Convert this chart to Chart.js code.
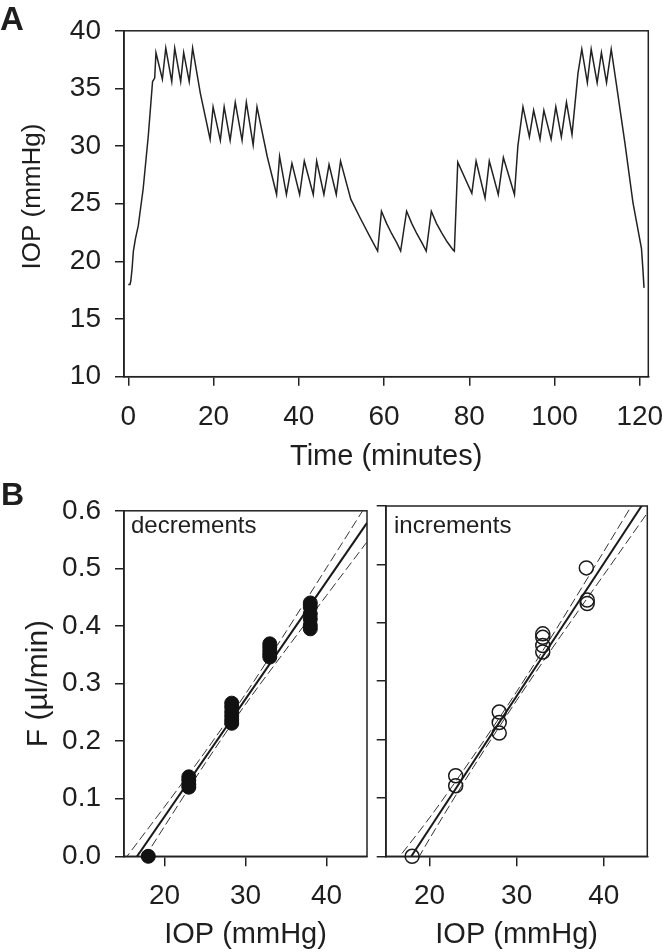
<!DOCTYPE html>
<html>
<head>
<meta charset="utf-8">
<title>IOP trace and outflow</title>
<script src="https://cdn.jsdelivr.net/npm/chart.js@4.4.0/dist/chart.umd.min.js"></script>
<style>
  body { margin: 0; background: #fff; }
  #page { position: relative; width: 663px; height: 952px; overflow: hidden; font-family: 'Liberation Sans', Arial, sans-serif; color: #1e1e1e; }
  canvas, .txt { position: absolute; }
  .panel { font-weight: bold; line-height: 1; }
  .note { font-size: 24px; line-height: 24px; white-space: nowrap; }
</style>
</head>
<body>
<div id="page">
  <canvas id="chartA" width="663" height="480" style="left:0;top:0;width:663px;height:480px"></canvas>
  <canvas id="chartDec" width="375" height="472" style="left:0;top:480px;width:375px;height:472px"></canvas>
  <canvas id="chartInc" width="288" height="472" style="left:375px;top:480px;width:288px;height:472px"></canvas>
  <div class="txt panel" style="left:0;top:2px;font-size:33px">A</div>
  <div class="txt panel" style="left:1px;top:478px;font-size:32px">B</div>
  <div class="txt note" style="left:131px;top:513px">decrements</div>
  <div class="txt note" style="left:394px;top:513px">increments</div>
</div>

<script>
// panel A: IOP recording over time
const timeMin = [0, 0.4, 0.6, 0.9, 1.2, 1.7, 2.35, 3.5, 4.7, 5.7, 6.2, 6.5, 8.0, 8.8, 10.2, 10.9, 12.3, 13.0, 14.3, 15.1,
  16.9, 19.2, 19.9, 21.6, 22.5, 23.9, 25.1, 26.7, 27.7, 29.3, 30.2,
  32.6, 34.8, 35.5, 37.1, 38.4, 40.2, 41.3, 43.4, 44.2, 45.9, 47.1, 48.8, 49.8,
  52.2, 54.5, 56.9, 58.5, 59.4, 60.6, 61.8, 63.0, 63.9, 65.3, 66.5, 67.7, 68.9, 69.9,
  71.1, 72.3, 73.5, 74.8, 76.2, 76.5,
  77.3, 80.6, 81.6, 83.7, 84.7, 86.8, 88.0, 90.6,
  91.4, 92.6, 94.1, 95.1, 96.6, 97.5, 99.2, 100.3, 101.6, 102.8, 104.1,
  105.5, 106.4, 107.7, 108.6, 110.0, 111.0, 112.2, 113.3,
  114.5, 116.5, 118.4, 120.4, 120.7, 121.0];
const iopTrace = [18.0, 18.0, 18.3, 19.4, 20.9, 22.0, 23.1, 26.3, 30.9, 35.6, 35.9, 38.1, 35.8, 38.5, 35.6, 38.5, 35.6, 38.1, 35.6, 38.5,
  34.6, 30.6, 33.4, 30.5, 33.4, 30.5, 33.8, 30.5, 33.8, 30.1, 33.4,
  29.1, 25.8, 29.1, 25.8, 28.5, 25.8, 28.7, 25.8, 28.7, 25.8, 28.4, 25.8, 28.7,
  25.4, 23.7, 22.0, 20.9, 24.35, 23.3, 22.4, 21.6, 20.9, 24.35, 23.3, 22.4, 21.6, 20.9,
  24.35, 23.3, 22.5, 21.7, 21.0, 20.9,
  28.6, 25.9, 28.7, 25.5, 28.7, 25.8, 29.0, 25.8,
  30.0, 33.4, 30.8, 33.1, 30.6, 33.1, 30.6, 33.4, 30.8, 33.8, 31.0,
  36.3, 38.4, 35.5, 38.4, 35.5, 38.1, 35.5, 38.4,
  35.4, 30.3, 25.1, 21.1, 19.5, 17.7];
const timeTicks = [0, 20, 40, 60, 80, 100, 120];
const iopTicksA = [10, 15, 20, 25, 30, 35, 40];

// panel B: flow against pressure
const decIOP = [18, 23, 23, 23, 23, 28.3, 28.3, 28.3, 28.3, 28.3, 28.3, 33, 33, 33, 33, 33, 38, 38, 38, 38, 38, 38];
const decF = [0, 0.138, 0.132, 0.125, 0.120, 0.266, 0.259, 0.251, 0.244, 0.237, 0.231, 0.369, 0.363, 0.357, 0.351, 0.346, 0.440, 0.433, 0.421, 0.412, 0.401, 0.395];
const incIOP = [18, 23, 23, 28, 28, 28, 33, 33, 33, 33, 38, 38.1, 38.1];
const incF = [0, 0.138, 0.121, 0.247, 0.229, 0.211, 0.381, 0.375, 0.361, 0.350, 0.494, 0.439, 0.433];
const fitIOP = [15, 45];
const decFit = [-0.033, 0.579];
const incFit = [-0.066, 0.615];
const bandIOP = [15, 20, 25, 30, 35, 40, 45];
const decUpper = [-0.007, 0.086, 0.181, 0.282, 0.390, 0.501, 0.612];
const decLower = [-0.059, 0.052, 0.161, 0.264, 0.359, 0.453, 0.546];
const incUpper = [-0.030, 0.066, 0.171, 0.282, 0.400, 0.522, 0.645];
const incLower = [-0.100, 0.030, 0.152, 0.267, 0.376, 0.482, 0.588];
const iopTicksB = [20, 30, 40];
const fTicks = [0, 0.1, 0.2, 0.3, 0.4, 0.5, 0.6];

const FONT = "'Liberation Sans', Arial, sans-serif";
const INK = '#1e1e1e';
const pts = (xs, ys) => xs.map((x, i) => ({ x: x, y: ys[i] }));

const boxPlugin = {
  id: 'box',
  beforeDatasetsDraw(chart) {
    const a = chart.chartArea, ctx = chart.ctx;
    ctx.save();
    ctx.strokeStyle = '#222';
    ctx.lineWidth = 1.5;
    ctx.strokeRect(a.left, a.top, a.right - a.left, a.bottom - a.top);
    ctx.restore();
  }
};

function scale(o) {
  return {
    type: 'linear',
    min: o.min, max: o.max,
    afterBuildTicks: s => { s.ticks = o.ticks.map(v => ({ value: v })); },
    afterFit: s => {
      if (o.width != null) s.width = o.width;
      if (o.height != null) { s.height = o.height; s.paddingLeft = 0; s.paddingRight = 0; }
    },
    grid: { drawOnChartArea: false, drawTicks: true, tickLength: o.tick, color: '#222', lineWidth: 1.5 },
    border: { display: true, color: '#222', width: 1.5 },
    ticks: {
      display: o.labels !== false,
      color: INK, padding: o.pad, autoSkip: false, maxRotation: 0,
      font: { family: FONT, size: 28 },
      callback: o.fmt || (v => v)
    },
    title: o.title ? {
      display: true, text: o.title, color: INK,
      font: { family: FONT, size: o.titleSize },
      padding: o.titlePad
    } : { display: false }
  };
}

function baseOptions(pad, xs, ys) {
  return {
    responsive: false, animation: false, events: [],
    layout: { padding: pad },
    plugins: { legend: { display: false }, tooltip: { enabled: false } },
    scales: { x: xs, y: ys }
  };
}

// panel A (leading spaces nudge the rotated title up a little, as in the original)
new Chart(document.getElementById('chartA'), {
  type: 'scatter',
  data: {
    datasets: [{
      data: pts(timeMin, iopTrace),
      showLine: true, pointRadius: 0,
      borderColor: '#222', borderWidth: 1.5
    }]
  },
  options: baseOptions({ top: 26.7, right: 14.7, left: 0, bottom: 0 },
    scale({ min: -1, max: 122, ticks: timeTicks, tick: 9, pad: 14.5, height: 103.3,
            title: 'Time (minutes)', titleSize: 29, titlePad: { bottom: 5.6 } }),
    scale({ min: 10, max: 40, ticks: iopTicksA, tick: 9, pad: 14, width: 124,
            title: '  IOP (mmHg)', titleSize: 26, titlePad: { top: 17.4 } })),
  plugins: [boxPlugin]
});

function fitSets(fit, upper, lower) {
  return [
    { data: pts(fitIOP, fit), showLine: true, pointRadius: 0, borderColor: '#1a1a1a', borderWidth: 2, order: 2 },
    { data: pts(bandIOP, upper), showLine: true, pointRadius: 0, borderColor: '#333', borderWidth: 1, borderDash: [9, 4], tension: 0.3, order: 3 },
    { data: pts(bandIOP, lower), showLine: true, pointRadius: 0, borderColor: '#333', borderWidth: 1, borderDash: [9, 4], tension: 0.3, order: 3 }
  ];
}

const fFmt = v => v.toFixed(1);

// panel B, decrements
new Chart(document.getElementById('chartDec'), {
  type: 'scatter',
  data: {
    datasets: [{
      data: pts(decIOP, decF), pointRadius: 7, clip: false,
      backgroundColor: '#111', borderColor: '#111', borderWidth: 1, order: 1
    }].concat(fitSets(decFit, decUpper, decLower))
  },
  options: baseOptions({ top: 26, right: 5.7, left: 0, bottom: 0 },
    scale({ min: 15, max: 45, ticks: iopTicksB, tick: 10, pad: 12.9, height: 95.7,
            title: 'IOP (mmHg)', titleSize: 29, titlePad: { bottom: 0 } }),
    scale({ min: 0, max: 0.6, ticks: fTicks, tick: 9, pad: 14, width: 124, fmt: fFmt,
            title: 'F (\u00b5l/min)', titleSize: 30, titlePad: { top: 21 } })),
  plugins: [boxPlugin]
});

// panel B, increments
new Chart(document.getElementById('chartInc'), {
  type: 'scatter',
  data: {
    datasets: [{
      data: pts(incIOP, incF), pointRadius: 7, clip: false,
      backgroundColor: 'rgba(0,0,0,0)', borderColor: '#1a1a1a', borderWidth: 1.5, order: 1
    }].concat(fitSets(incFit, incUpper, incLower))
  },
  options: baseOptions({ top: 26, right: 15.7, left: 0, bottom: 0 },
    scale({ min: 15, max: 45, ticks: iopTicksB, tick: 10, pad: 12.9, height: 95.7,
            title: 'IOP (mmHg)', titleSize: 29, titlePad: { bottom: 0 } }),
    scale({ min: 0, max: 0.6, ticks: fTicks, tick: 9.3, pad: 0, width: 11, labels: false })),
  plugins: [boxPlugin]
});
</script>
</body>
</html>
